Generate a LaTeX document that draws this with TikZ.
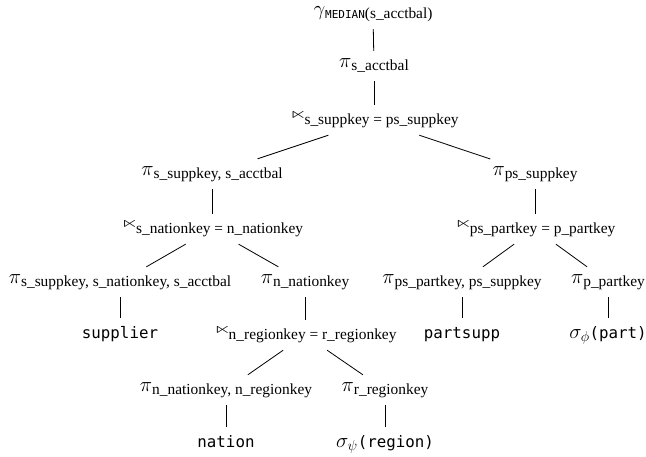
\documentclass[tikz,border=0pt]{standalone}
\usepackage{amssymb}
\usepackage{fontspec}
\setmainfont{Liberation Serif}
\setmonofont{DejaVu Sans Mono}
\newcommand{\subtx}[1]{\raisebox{-3pt}{\fontsize{15.4}{16}\selectfont #1}}
\newcommand{\proj}[1]{{\fontsize{21}{21}\selectfont$\pi$}\subtx{#1}}
\newcommand{\sjn}[1]{\raisebox{3.5pt}{\fontsize{24}{24}\selectfont\scalebox{0.95}[0.6]{$\ltimes$}}\kern-2.5pt\subtx{#1}}
\newcommand{\rel}[1]{{\fontsize{15.8}{16}\selectfont\ttfamily #1}}
\begin{document}
\begin{tikzpicture}[x=1pt,y=-1pt,
  op/.style={inner xsep=2pt, inner ysep=5.5pt, text height=11pt, text depth=8pt, anchor=center},
  leaf/.style={inner xsep=2pt, inner ysep=6pt, text height=14pt, text depth=4pt, anchor=center},
  edge/.style={line width=0.8pt, black}]
\useasboundingbox (0,0) rectangle (646,456);
% operators
\node[op] (g) at (373,14) {{\fontsize{21}{21}\selectfont$\gamma$}\raisebox{-3pt}{{\fontsize{11}{11}\selectfont\ttfamily MEDIAN}{\fontsize{15.4}{16}\selectfont(s\_acctbal)}}};
\node[op] (p1) at (374,66) {\proj{s\_acctbal}};
\node[op] (j1) at (374,120) {\sjn{s\_suppkey = ps\_suppkey}};
\node[op] (p2) at (212,174) {\proj{s\_suppkey, s\_acctbal}};
\node[op] (j2) at (212,229) {\sjn{s\_nationkey = n\_nationkey}};
\node[op] (p3) at (120,282) {\proj{s\_suppkey, s\_nationkey, s\_acctbal}};
\node[op] (p4) at (305,282) {\proj{n\_nationkey}};
\node[leaf] (l1) at (120,333) {\rel{supplier}};
\node[op] (j3) at (305,335) {\sjn{n\_regionkey = r\_regionkey}};
\node[op] (p5) at (226,390) {\proj{n\_nationkey, n\_regionkey}};
\node[op] (p6) at (385,390) {\proj{r\_regionkey}};
\node[leaf] (l2) at (226,442) {\rel{nation}};
\node[leaf] (l3) at (385,442) {{\fontsize{21}{21}\selectfont$\sigma_{\psi}$}\rel{(region)}};
\node[op] (p7) at (535,174) {\proj{ps\_suppkey}};
\node[op] (j4) at (535,229) {\sjn{ps\_partkey = p\_partkey}};
\node[op] (p8) at (462,282) {\proj{ps\_partkey, ps\_suppkey}};
\node[op] (p9) at (608,282) {\proj{p\_partkey}};
\node[leaf] (l4) at (462,333) {\rel{partsupp}};
\node[leaf] (l5) at (608,333) {{\fontsize{21}{21}\selectfont$\sigma_{\phi}$}\rel{(part)}};
% edges
\draw[edge] (g) -- (p1);
\draw[edge] (p1) -- (j1);
\draw[edge] (j1) -- (p2);
\draw[edge] (j1) -- (p7);
\draw[edge] (p2) -- (j2);
\draw[edge] (j2) -- (p3);
\draw[edge] (j2) -- (p4);
\draw[edge] (p3) -- (l1);
\draw[edge] (p4) -- (j3);
\draw[edge] (j3) -- (p5);
\draw[edge] (j3) -- (p6);
\draw[edge] (p5) -- (l2);
\draw[edge] (p6) -- (l3);
\draw[edge] (p7) -- (j4);
\draw[edge] (j4) -- (p8);
\draw[edge] (j4) -- (p9);
\draw[edge] (p8) -- (l4);
\draw[edge] (p9) -- (l5);
\end{tikzpicture}
\end{document}
